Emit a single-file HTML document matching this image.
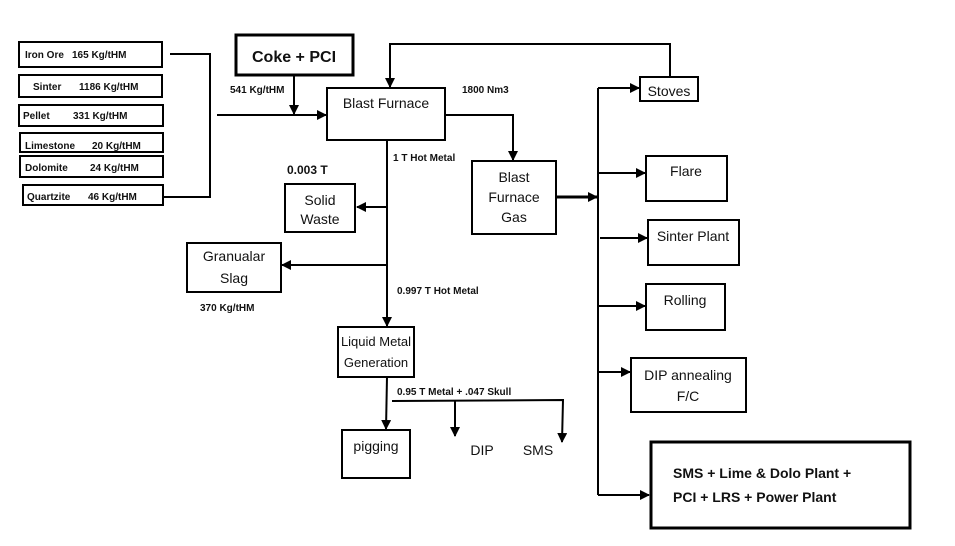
<!DOCTYPE html>
<html><head><meta charset="utf-8"><style>
html,body{margin:0;padding:0;background:#fff;}
svg{display:block;}
.b{font-family:"Liberation Sans",sans-serif;font-weight:bold;fill:#111;}
.r{font-family:"Liberation Sans",sans-serif;fill:#111;}
</style></head><body>
<svg width="955" height="546" viewBox="0 0 955 546" xmlns="http://www.w3.org/2000/svg">
<defs><marker id="a" markerWidth="10" markerHeight="10" refX="9" refY="5" orient="auto" markerUnits="userSpaceOnUse"><path d="M0,0 L10,5 L0,10 z" fill="#000"/></marker></defs>
<g fill="none" stroke="#000" stroke-width="2">
<rect x="19" y="42" width="143" height="25"/>
<rect x="19" y="75" width="143" height="22"/>
<rect x="19" y="105" width="144" height="21"/>
<rect x="20" y="133" width="143" height="19"/>
<rect x="20" y="156" width="143" height="21"/>
<rect x="23" y="185" width="140" height="20"/>
<polyline points="170,54 210,54 210,197 164,197"/>
<line x1="217" y1="115" x2="326" y2="115" marker-end="url(#a)"/>
<rect x="236" y="35" width="117" height="40" stroke-width="3"/>
<line x1="294" y1="75" x2="294" y2="114" marker-end="url(#a)"/>
<rect x="327" y="88" width="118" height="52"/>
<polyline points="670,77 670,44 390,44 390,87" marker-end="url(#a)"/>
<rect x="640" y="77" width="58" height="24"/>
<polyline points="445,115 513,115 513,160" marker-end="url(#a)"/>
<rect x="472" y="161" width="84" height="73"/>
<line x1="556" y1="197" x2="597" y2="197" stroke-width="3" marker-end="url(#a)"/>
<line x1="598" y1="88" x2="598" y2="495"/>
<line x1="598" y1="88" x2="639" y2="88" marker-end="url(#a)"/>
<line x1="598" y1="173" x2="645" y2="173" marker-end="url(#a)"/>
<line x1="600" y1="238" x2="647" y2="238" marker-end="url(#a)"/>
<line x1="598" y1="306" x2="645" y2="306" marker-end="url(#a)"/>
<line x1="598" y1="372" x2="630" y2="372" marker-end="url(#a)"/>
<line x1="598" y1="495" x2="649" y2="495" marker-end="url(#a)"/>
<rect x="646" y="156" width="81" height="45"/>
<rect x="648" y="220" width="91" height="45"/>
<rect x="646" y="284" width="79" height="46"/>
<rect x="631" y="358" width="115" height="54"/>
<rect x="651" y="442" width="259" height="86" stroke-width="3"/>
<line x1="387" y1="140" x2="387" y2="326" marker-end="url(#a)"/>
<line x1="387" y1="207" x2="357" y2="207" marker-end="url(#a)"/>
<rect x="285" y="184" width="70" height="48"/>
<line x1="387" y1="265" x2="282" y2="265" marker-end="url(#a)"/>
<rect x="187" y="243" width="94" height="49"/>
<rect x="338" y="327" width="76" height="50"/>
<line x1="387" y1="377" x2="386" y2="429" marker-end="url(#a)"/>
<rect x="342" y="430" width="68" height="48"/>
<polyline points="392,401 563,400 562,442" marker-end="url(#a)"/>
<line x1="455" y1="401" x2="455" y2="436" marker-end="url(#a)"/>
</g>
<g class="b" font-size="10">
<text x="25" y="58">Iron Ore</text><text x="72" y="58">165 Kg/tHM</text>
<text x="33" y="90">Sinter</text><text x="79" y="90">1186 Kg/tHM</text>
<text x="23" y="119">Pellet</text><text x="73" y="119">331 Kg/tHM</text>
<text x="25" y="149">Limestone</text><text x="92" y="149">20 Kg/tHM</text>
<text x="25" y="171">Dolomite</text><text x="90" y="171">24 Kg/tHM</text>
<text x="27" y="200">Quartzite</text><text x="88" y="200">46 Kg/tHM</text>
<text x="230" y="93">541 Kg/tHM</text>
<text x="462" y="93">1800 Nm3</text>
<text x="393" y="161">1 T Hot Metal</text>
<text x="397" y="294">0.997 T Hot Metal</text>
<text x="200" y="311">370 Kg/tHM</text>
<text x="397" y="395">0.95 T Metal + .047 Skull</text>
</g>
<text class="b" x="294" y="62" font-size="16" text-anchor="middle">Coke + PCI</text>
<text class="b" x="287" y="174" font-size="12">0.003 T</text>
<g class="b" font-size="14">
<text x="673" y="478">SMS + Lime &amp; Dolo Plant +</text>
<text x="673" y="502">PCI + LRS + Power Plant</text>
</g>
<g class="r" font-size="14" text-anchor="middle">
<text x="386" y="108">Blast Furnace</text>
<text x="669" y="96">Stoves</text>
<text x="514" y="182">Blast</text>
<text x="514" y="202">Furnace</text>
<text x="514" y="222">Gas</text>
<text x="686" y="176">Flare</text>
<text x="693" y="241">Sinter Plant</text>
<text x="685" y="305">Rolling</text>
<text x="688" y="380">DIP annealing</text>
<text x="688" y="401">F/C</text>
<text x="320" y="205">Solid</text>
<text x="320" y="224">Waste</text>
<text x="234" y="261">Granualar</text>
<text x="234" y="283">Slag</text>
<text x="376" y="346" font-size="13">Liquid Metal</text>
<text x="376" y="367" font-size="13">Generation</text>
<text x="376" y="451">pigging</text>
<text x="482" y="455">DIP</text>
<text x="538" y="455">SMS</text>
</g>
</svg>
</body></html>
